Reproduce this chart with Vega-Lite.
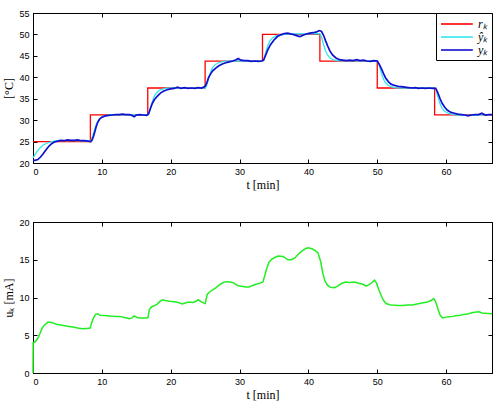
{
  "$schema": "https://vega.github.io/schema/vega-lite/v6.json",
  "padding": {"left": 2, "top": 8, "right": 7, "bottom": 5},
  "spacing": 26,
  "datasets": {
    "top": [
      {"t": 0, "v": 25, "s": "rₖ"}, {"t": 8.333, "v": 31.25, "s": "rₖ"}, {"t": 16.667, "v": 37.5, "s": "rₖ"}, {"t": 25, "v": 43.75, "s": "rₖ"}, {"t": 33.333, "v": 50, "s": "rₖ"}, {"t": 41.667, "v": 43.75, "s": "rₖ"}, {"t": 50, "v": 37.5, "s": "rₖ"}, {"t": 58.333, "v": 31.25, "s": "rₖ"}, {"t": 66.667, "v": 31.25, "s": "rₖ"},
      {"t": 0, "v": 21.2, "s": "ŷₖ"}, {"t": 0.5, "v": 22.5, "s": "ŷₖ"}, {"t": 1.0, "v": 23.5, "s": "ŷₖ"}, {"t": 1.5, "v": 24.2, "s": "ŷₖ"}, {"t": 2.0, "v": 24.6, "s": "ŷₖ"}, {"t": 2.5, "v": 24.9, "s": "ŷₖ"}, {"t": 3.0, "v": 25.1, "s": "ŷₖ"}, {"t": 3.5, "v": 25.2, "s": "ŷₖ"}, {"t": 6.0, "v": 25.25, "s": "ŷₖ"}, {"t": 8.33, "v": 25.1, "s": "ŷₖ"},
      {"t": 8.53, "v": 25.6, "s": "ŷₖ"}, {"t": 8.83, "v": 27.2, "s": "ŷₖ"}, {"t": 9.13, "v": 28.75, "s": "ŷₖ"}, {"t": 9.43, "v": 29.8, "s": "ŷₖ"}, {"t": 9.83, "v": 30.5, "s": "ŷₖ"}, {"t": 10.33, "v": 30.95, "s": "ŷₖ"}, {"t": 11.0, "v": 31.2, "s": "ŷₖ"}, {"t": 13.0, "v": 31.3, "s": "ŷₖ"}, {"t": 16.67, "v": 31.25, "s": "ŷₖ"},
      {"t": 16.87, "v": 31.75, "s": "ŷₖ"}, {"t": 17.17, "v": 33.45, "s": "ŷₖ"}, {"t": 17.47, "v": 35.0, "s": "ŷₖ"}, {"t": 17.77, "v": 36.05, "s": "ŷₖ"}, {"t": 18.17, "v": 36.75, "s": "ŷₖ"}, {"t": 18.67, "v": 37.2, "s": "ŷₖ"}, {"t": 19.37, "v": 37.45, "s": "ŷₖ"}, {"t": 20.5, "v": 37.5, "s": "ŷₖ"}, {"t": 25.0, "v": 37.5, "s": "ŷₖ"},
      {"t": 25.2, "v": 38.0, "s": "ŷₖ"}, {"t": 25.5, "v": 39.7, "s": "ŷₖ"}, {"t": 25.8, "v": 41.25, "s": "ŷₖ"}, {"t": 26.1, "v": 42.3, "s": "ŷₖ"}, {"t": 26.5, "v": 43.0, "s": "ŷₖ"}, {"t": 27.0, "v": 43.45, "s": "ŷₖ"}, {"t": 27.7, "v": 43.7, "s": "ŷₖ"}, {"t": 29.0, "v": 43.85, "s": "ŷₖ"}, {"t": 33.33, "v": 43.75, "s": "ŷₖ"},
      {"t": 33.53, "v": 44.25, "s": "ŷₖ"}, {"t": 33.83, "v": 45.95, "s": "ŷₖ"}, {"t": 34.13, "v": 47.5, "s": "ŷₖ"}, {"t": 34.43, "v": 48.55, "s": "ŷₖ"}, {"t": 34.83, "v": 49.25, "s": "ŷₖ"}, {"t": 35.33, "v": 49.7, "s": "ŷₖ"}, {"t": 36.03, "v": 49.95, "s": "ŷₖ"}, {"t": 37.0, "v": 50.1, "s": "ŷₖ"}, {"t": 41.67, "v": 50.2, "s": "ŷₖ"},
      {"t": 41.87, "v": 49.5, "s": "ŷₖ"}, {"t": 42.17, "v": 47.8, "s": "ŷₖ"}, {"t": 42.47, "v": 46.25, "s": "ŷₖ"}, {"t": 42.77, "v": 45.2, "s": "ŷₖ"}, {"t": 43.17, "v": 44.5, "s": "ŷₖ"}, {"t": 43.67, "v": 44.05, "s": "ŷₖ"}, {"t": 44.37, "v": 43.85, "s": "ŷₖ"}, {"t": 47.0, "v": 43.85, "s": "ŷₖ"}, {"t": 50.0, "v": 43.8, "s": "ŷₖ"},
      {"t": 50.2, "v": 43.25, "s": "ŷₖ"}, {"t": 50.5, "v": 41.55, "s": "ŷₖ"}, {"t": 50.8, "v": 40.0, "s": "ŷₖ"}, {"t": 51.1, "v": 38.95, "s": "ŷₖ"}, {"t": 51.5, "v": 38.25, "s": "ŷₖ"}, {"t": 52.0, "v": 37.8, "s": "ŷₖ"}, {"t": 52.7, "v": 37.55, "s": "ŷₖ"}, {"t": 54.0, "v": 37.5, "s": "ŷₖ"}, {"t": 58.33, "v": 37.5, "s": "ŷₖ"},
      {"t": 58.53, "v": 37.0, "s": "ŷₖ"}, {"t": 58.83, "v": 35.3, "s": "ŷₖ"}, {"t": 59.13, "v": 33.75, "s": "ŷₖ"}, {"t": 59.43, "v": 32.7, "s": "ŷₖ"}, {"t": 59.83, "v": 32.0, "s": "ŷₖ"}, {"t": 60.33, "v": 31.55, "s": "ŷₖ"}, {"t": 61.03, "v": 31.3, "s": "ŷₖ"}, {"t": 62.0, "v": 31.2, "s": "ŷₖ"}, {"t": 63.3, "v": 31.1, "s": "ŷₖ"}, {"t": 66.67, "v": 31.3, "s": "ŷₖ"},
      {"t": 0, "v": 20.6, "s": "yₖ"}, {"t": 0.3, "v": 20.6, "s": "yₖ"}, {"t": 0.7, "v": 20.8, "s": "yₖ"}, {"t": 1.1, "v": 21.4, "s": "yₖ"}, {"t": 1.5, "v": 22.2, "s": "yₖ"}, {"t": 1.9, "v": 23.1, "s": "yₖ"}, {"t": 2.3, "v": 23.9, "s": "yₖ"}, {"t": 2.7, "v": 24.5, "s": "yₖ"}, {"t": 3.1, "v": 24.9, "s": "yₖ"}, {"t": 3.6, "v": 25.1, "s": "yₖ"}, {"t": 4.0, "v": 25.3, "s": "yₖ"}, {"t": 4.5, "v": 25.2, "s": "yₖ"}, {"t": 5.0, "v": 25.4, "s": "yₖ"}, {"t": 5.5, "v": 25.3, "s": "yₖ"}, {"t": 6.0, "v": 25.3, "s": "yₖ"}, {"t": 6.5, "v": 25.4, "s": "yₖ"}, {"t": 7.0, "v": 25.2, "s": "yₖ"}, {"t": 7.5, "v": 25.2, "s": "yₖ"}, {"t": 8.0, "v": 25.1, "s": "yₖ"}, {"t": 8.4, "v": 25.0, "s": "yₖ"},
      {"t": 8.6, "v": 25.4, "s": "yₖ"}, {"t": 8.8, "v": 26.3, "s": "yₖ"}, {"t": 9.0, "v": 27.4, "s": "yₖ"}, {"t": 9.2, "v": 28.6, "s": "yₖ"}, {"t": 9.4, "v": 29.5, "s": "yₖ"}, {"t": 9.7, "v": 30.3, "s": "yₖ"}, {"t": 10.0, "v": 30.7, "s": "yₖ"}, {"t": 10.5, "v": 31.0, "s": "yₖ"}, {"t": 11.0, "v": 31.1, "s": "yₖ"}, {"t": 11.5, "v": 31.2, "s": "yₖ"}, {"t": 12.0, "v": 31.3, "s": "yₖ"}, {"t": 12.5, "v": 31.3, "s": "yₖ"}, {"t": 13.0, "v": 31.4, "s": "yₖ"}, {"t": 13.5, "v": 31.3, "s": "yₖ"}, {"t": 14.0, "v": 31.3, "s": "yₖ"}, {"t": 14.4, "v": 31.1, "s": "yₖ"}, {"t": 14.7, "v": 30.8, "s": "yₖ"}, {"t": 15.0, "v": 31.2, "s": "yₖ"}, {"t": 15.5, "v": 31.3, "s": "yₖ"}, {"t": 16.0, "v": 31.2, "s": "yₖ"}, {"t": 16.5, "v": 31.1, "s": "yₖ"},
      {"t": 16.8, "v": 31.5, "s": "yₖ"}, {"t": 17.0, "v": 32.5, "s": "yₖ"}, {"t": 17.3, "v": 33.8, "s": "yₖ"}, {"t": 17.6, "v": 34.7, "s": "yₖ"}, {"t": 18.0, "v": 35.5, "s": "yₖ"}, {"t": 18.5, "v": 36.3, "s": "yₖ"}, {"t": 19.0, "v": 36.8, "s": "yₖ"}, {"t": 19.5, "v": 37.1, "s": "yₖ"}, {"t": 20.0, "v": 37.3, "s": "yₖ"}, {"t": 20.5, "v": 37.4, "s": "yₖ"}, {"t": 21.0, "v": 37.7, "s": "yₖ"}, {"t": 21.5, "v": 37.4, "s": "yₖ"}, {"t": 22.0, "v": 37.6, "s": "yₖ"}, {"t": 22.5, "v": 37.4, "s": "yₖ"}, {"t": 23.0, "v": 37.5, "s": "yₖ"}, {"t": 23.5, "v": 37.4, "s": "yₖ"}, {"t": 24.0, "v": 37.6, "s": "yₖ"}, {"t": 24.5, "v": 37.5, "s": "yₖ"},
      {"t": 25.0, "v": 37.9, "s": "yₖ"}, {"t": 25.2, "v": 38.5, "s": "yₖ"}, {"t": 25.5, "v": 39.9, "s": "yₖ"}, {"t": 25.8, "v": 40.8, "s": "yₖ"}, {"t": 26.1, "v": 41.5, "s": "yₖ"}, {"t": 26.5, "v": 42.1, "s": "yₖ"}, {"t": 27.0, "v": 42.7, "s": "yₖ"}, {"t": 27.5, "v": 43.1, "s": "yₖ"}, {"t": 28.0, "v": 43.4, "s": "yₖ"}, {"t": 28.5, "v": 43.6, "s": "yₖ"}, {"t": 29.0, "v": 43.8, "s": "yₖ"}, {"t": 29.5, "v": 44.1, "s": "yₖ"}, {"t": 29.8, "v": 44.4, "s": "yₖ"}, {"t": 30.2, "v": 44.0, "s": "yₖ"}, {"t": 30.7, "v": 43.9, "s": "yₖ"}, {"t": 31.2, "v": 43.9, "s": "yₖ"}, {"t": 31.7, "v": 43.7, "s": "yₖ"}, {"t": 32.2, "v": 43.8, "s": "yₖ"}, {"t": 32.7, "v": 43.7, "s": "yₖ"}, {"t": 33.2, "v": 43.8, "s": "yₖ"},
      {"t": 33.5, "v": 44.0, "s": "yₖ"}, {"t": 33.8, "v": 45.2, "s": "yₖ"}, {"t": 34.1, "v": 46.4, "s": "yₖ"}, {"t": 34.5, "v": 47.6, "s": "yₖ"}, {"t": 35.0, "v": 48.7, "s": "yₖ"}, {"t": 35.5, "v": 49.5, "s": "yₖ"}, {"t": 36.0, "v": 49.9, "s": "yₖ"}, {"t": 36.5, "v": 50.2, "s": "yₖ"}, {"t": 37.0, "v": 50.3, "s": "yₖ"}, {"t": 37.5, "v": 50.1, "s": "yₖ"}, {"t": 38.0, "v": 49.9, "s": "yₖ"}, {"t": 38.5, "v": 49.6, "s": "yₖ"}, {"t": 38.8, "v": 49.5, "s": "yₖ"}, {"t": 39.2, "v": 49.8, "s": "yₖ"}, {"t": 39.7, "v": 50.1, "s": "yₖ"}, {"t": 40.2, "v": 50.3, "s": "yₖ"}, {"t": 40.7, "v": 50.4, "s": "yₖ"}, {"t": 41.2, "v": 50.6, "s": "yₖ"}, {"t": 41.6, "v": 50.9, "s": "yₖ"},
      {"t": 41.9, "v": 50.7, "s": "yₖ"}, {"t": 42.2, "v": 49.8, "s": "yₖ"}, {"t": 42.5, "v": 48.5, "s": "yₖ"}, {"t": 42.8, "v": 47.3, "s": "yₖ"}, {"t": 43.1, "v": 46.2, "s": "yₖ"}, {"t": 43.5, "v": 45.2, "s": "yₖ"}, {"t": 44.0, "v": 44.5, "s": "yₖ"}, {"t": 44.5, "v": 44.1, "s": "yₖ"}, {"t": 45.0, "v": 44.0, "s": "yₖ"}, {"t": 45.5, "v": 43.9, "s": "yₖ"}, {"t": 46.0, "v": 44.0, "s": "yₖ"}, {"t": 46.5, "v": 43.9, "s": "yₖ"}, {"t": 47.0, "v": 44.1, "s": "yₖ"}, {"t": 47.5, "v": 43.9, "s": "yₖ"}, {"t": 48.0, "v": 44.0, "s": "yₖ"}, {"t": 48.5, "v": 43.8, "s": "yₖ"}, {"t": 49.0, "v": 43.7, "s": "yₖ"}, {"t": 49.5, "v": 43.9, "s": "yₖ"}, {"t": 50.0, "v": 43.8, "s": "yₖ"},
      {"t": 50.3, "v": 43.0, "s": "yₖ"}, {"t": 50.6, "v": 42.0, "s": "yₖ"}, {"t": 50.9, "v": 40.9, "s": "yₖ"}, {"t": 51.2, "v": 39.9, "s": "yₖ"}, {"t": 51.6, "v": 39.0, "s": "yₖ"}, {"t": 52.0, "v": 38.4, "s": "yₖ"}, {"t": 52.5, "v": 38.1, "s": "yₖ"}, {"t": 53.0, "v": 37.9, "s": "yₖ"}, {"t": 53.5, "v": 37.8, "s": "yₖ"}, {"t": 54.0, "v": 37.7, "s": "yₖ"}, {"t": 54.5, "v": 37.6, "s": "yₖ"}, {"t": 55.0, "v": 37.5, "s": "yₖ"}, {"t": 55.5, "v": 37.6, "s": "yₖ"}, {"t": 56.0, "v": 37.4, "s": "yₖ"}, {"t": 56.5, "v": 37.5, "s": "yₖ"}, {"t": 57.0, "v": 37.4, "s": "yₖ"}, {"t": 57.5, "v": 37.5, "s": "yₖ"}, {"t": 58.0, "v": 37.4, "s": "yₖ"}, {"t": 58.5, "v": 37.4, "s": "yₖ"},
      {"t": 58.8, "v": 36.4, "s": "yₖ"}, {"t": 59.1, "v": 35.1, "s": "yₖ"}, {"t": 59.4, "v": 34.0, "s": "yₖ"}, {"t": 59.8, "v": 33.0, "s": "yₖ"}, {"t": 60.2, "v": 32.3, "s": "yₖ"}, {"t": 60.7, "v": 31.8, "s": "yₖ"}, {"t": 61.2, "v": 31.6, "s": "yₖ"}, {"t": 61.7, "v": 31.4, "s": "yₖ"}, {"t": 62.2, "v": 31.3, "s": "yₖ"}, {"t": 62.7, "v": 31.2, "s": "yₖ"}, {"t": 63.2, "v": 31.0, "s": "yₖ"}, {"t": 63.7, "v": 31.2, "s": "yₖ"}, {"t": 64.2, "v": 31.3, "s": "yₖ"}, {"t": 64.7, "v": 31.3, "s": "yₖ"}, {"t": 65.2, "v": 31.6, "s": "yₖ"}, {"t": 65.7, "v": 31.2, "s": "yₖ"}, {"t": 66.2, "v": 31.3, "s": "yₖ"}, {"t": 66.67, "v": 31.3, "s": "yₖ"}
    ],
    "u": [
      {"t": 0, "v": 0}, {"t": 0.02, "v": 4.0}, {"t": 0.3, "v": 4.1}, {"t": 0.7, "v": 4.6}, {"t": 1.0, "v": 5.2}, {"t": 1.3, "v": 5.9}, {"t": 1.7, "v": 6.4}, {"t": 2.2, "v": 6.75}, {"t": 2.7, "v": 6.7}, {"t": 3.4, "v": 6.45}, {"t": 4.4, "v": 6.3}, {"t": 5.0, "v": 6.2}, {"t": 5.8, "v": 6.1}, {"t": 6.5, "v": 5.95}, {"t": 7.2, "v": 5.85}, {"t": 7.8, "v": 5.9}, {"t": 8.3, "v": 5.95},
      {"t": 8.5, "v": 6.6}, {"t": 8.8, "v": 7.3}, {"t": 9.1, "v": 7.8}, {"t": 9.4, "v": 7.85}, {"t": 9.7, "v": 7.65}, {"t": 10.4, "v": 7.6}, {"t": 11.1, "v": 7.55}, {"t": 12.0, "v": 7.5}, {"t": 12.6, "v": 7.5}, {"t": 13.3, "v": 7.35}, {"t": 14.0, "v": 7.2}, {"t": 14.4, "v": 7.3}, {"t": 14.7, "v": 7.55}, {"t": 15.1, "v": 7.35}, {"t": 15.6, "v": 7.3}, {"t": 16.4, "v": 7.3}, {"t": 16.7, "v": 7.35},
      {"t": 16.9, "v": 8.4}, {"t": 17.2, "v": 8.75}, {"t": 17.6, "v": 8.9}, {"t": 18.0, "v": 9.1}, {"t": 18.4, "v": 9.45}, {"t": 18.8, "v": 9.7}, {"t": 19.2, "v": 9.6}, {"t": 19.8, "v": 9.5}, {"t": 20.8, "v": 9.4}, {"t": 21.2, "v": 9.3}, {"t": 21.7, "v": 9.15}, {"t": 22.2, "v": 9.3}, {"t": 22.7, "v": 9.4}, {"t": 23.2, "v": 9.35}, {"t": 23.7, "v": 9.5}, {"t": 24.0, "v": 9.7}, {"t": 24.4, "v": 9.45}, {"t": 24.8, "v": 9.25}, {"t": 25.0, "v": 9.2},
      {"t": 25.3, "v": 10.4}, {"t": 25.6, "v": 10.7}, {"t": 26.1, "v": 11.0}, {"t": 26.6, "v": 11.3}, {"t": 27.1, "v": 11.7}, {"t": 27.6, "v": 11.95}, {"t": 28.0, "v": 12.1}, {"t": 28.7, "v": 12.05}, {"t": 29.2, "v": 11.9}, {"t": 29.7, "v": 11.6}, {"t": 30.3, "v": 11.5}, {"t": 30.9, "v": 11.4}, {"t": 31.4, "v": 11.4}, {"t": 31.9, "v": 11.6}, {"t": 32.4, "v": 11.75}, {"t": 33.0, "v": 11.9}, {"t": 33.4, "v": 12.05},
      {"t": 33.7, "v": 13.0}, {"t": 33.9, "v": 13.7}, {"t": 34.3, "v": 14.7}, {"t": 34.7, "v": 15.1}, {"t": 35.1, "v": 15.3}, {"t": 35.6, "v": 15.5}, {"t": 36.0, "v": 15.45}, {"t": 36.4, "v": 15.4}, {"t": 37.0, "v": 15.0}, {"t": 37.5, "v": 15.0}, {"t": 38.0, "v": 15.2}, {"t": 38.5, "v": 15.7}, {"t": 39.0, "v": 16.1}, {"t": 39.6, "v": 16.5}, {"t": 40.0, "v": 16.6}, {"t": 40.5, "v": 16.45}, {"t": 41.0, "v": 16.2}, {"t": 41.4, "v": 15.9},
      {"t": 41.8, "v": 14.7}, {"t": 42.1, "v": 13.2}, {"t": 42.4, "v": 12.2}, {"t": 42.8, "v": 11.6}, {"t": 43.2, "v": 11.35}, {"t": 43.8, "v": 11.3}, {"t": 44.3, "v": 11.55}, {"t": 44.8, "v": 11.85}, {"t": 45.4, "v": 12.05}, {"t": 46.0, "v": 12.0}, {"t": 46.7, "v": 12.05}, {"t": 47.3, "v": 11.9}, {"t": 47.9, "v": 11.75}, {"t": 48.4, "v": 11.5}, {"t": 48.8, "v": 11.7}, {"t": 49.2, "v": 11.95}, {"t": 49.6, "v": 12.3}, {"t": 49.9, "v": 11.9},
      {"t": 50.2, "v": 11.1}, {"t": 50.6, "v": 10.2}, {"t": 51.0, "v": 9.5}, {"t": 51.3, "v": 9.2}, {"t": 51.8, "v": 9.05}, {"t": 52.2, "v": 9.0}, {"t": 53.0, "v": 8.95}, {"t": 53.7, "v": 8.95}, {"t": 54.4, "v": 9.0}, {"t": 55.1, "v": 9.0}, {"t": 55.6, "v": 9.1}, {"t": 56.1, "v": 9.2}, {"t": 56.7, "v": 9.3}, {"t": 57.3, "v": 9.4}, {"t": 57.8, "v": 9.6}, {"t": 58.2, "v": 9.85},
      {"t": 58.5, "v": 9.4}, {"t": 58.8, "v": 8.5}, {"t": 59.1, "v": 7.7}, {"t": 59.5, "v": 7.3}, {"t": 60.0, "v": 7.4}, {"t": 60.4, "v": 7.45}, {"t": 61.0, "v": 7.5}, {"t": 61.5, "v": 7.6}, {"t": 61.9, "v": 7.6}, {"t": 62.5, "v": 7.75}, {"t": 63.1, "v": 7.8}, {"t": 63.6, "v": 7.95}, {"t": 64.1, "v": 8.05}, {"t": 64.8, "v": 8.1}, {"t": 65.2, "v": 7.95}, {"t": 65.8, "v": 7.9}, {"t": 66.67, "v": 7.85}
    ]
  },
  "vconcat": [
    {
      "width": 459,
      "height": 150,
      "data": {"name": "top"},
      "layer": [
        {
          "transform": [{"filter": "datum.s === 'rₖ'"}],
          "mark": {"type": "line", "interpolate": "step-after", "strokeWidth": 1.3},
          "encoding": {
            "x": {"field": "t", "type": "quantitative", "scale": {"domain": [0, 66.667], "nice": false}, "axis": {"orient": "bottom", "values": [0, 10, 20, 30, 40, 50, 60], "title": "t [min]"}},
            "y": {"field": "v", "type": "quantitative", "scale": {"domain": [20, 55], "nice": false}, "axis": {"orient": "left", "values": [20, 25, 30, 35, 40, 45, 50, 55], "title": "[°C]"}},
            "color": {"field": "s", "type": "nominal", "scale": {"domain": ["rₖ", "ŷₖ", "yₖ"], "range": ["#ff0000", "#33e6f2", "#1010d0"]}, "legend": {"orient": "top-right", "offset": 0, "title": null, "strokeColor": "black", "fillColor": "white", "padding": 4, "symbolType": "M-1,0L4.3,0", "symbolSize": 144, "symbolStrokeWidth": 1.6, "labelFont": "Liberation Serif", "labelFontStyle": "italic", "labelFontSize": 12, "labelColor": "black", "labelOffset": 24, "rowPadding": -3}}
          }
        },
        {
          "transform": [{"filter": "datum.s === 'ŷₖ'"}],
          "mark": {"type": "line", "strokeWidth": 1.3},
          "encoding": {
            "x": {"field": "t", "type": "quantitative", "axis": null},
            "y": {"field": "v", "type": "quantitative", "axis": null},
            "color": {"field": "s", "type": "nominal"}
          }
        },
        {
          "transform": [{"filter": "datum.s === 'yₖ'"}],
          "mark": {"type": "line", "strokeWidth": 1.7},
          "encoding": {
            "x": {"field": "t", "type": "quantitative", "axis": null},
            "y": {"field": "v", "type": "quantitative", "axis": null},
            "color": {"field": "s", "type": "nominal"}
          }
        },
        {
          "transform": [{"filter": "datum.s === 'rₖ'"}],
          "mark": {"type": "line", "opacity": 0},
          "encoding": {
            "x": {"field": "t", "type": "quantitative", "axis": {"orient": "top", "values": [0, 10, 20, 30, 40, 50, 60], "labels": false, "title": null}},
            "y": {"field": "v", "type": "quantitative", "axis": {"orient": "right", "values": [20, 25, 30, 35, 40, 45, 50, 55], "labels": false, "title": null}}
          }
        }
      ],
      "resolve": {"axis": {"x": "independent", "y": "independent"}}
    },
    {
      "width": 459,
      "height": 151,
      "data": {"name": "u"},
      "layer": [
        {
          "mark": {"type": "line", "strokeWidth": 1.5, "color": "#22ee22"},
          "encoding": {
            "x": {"field": "t", "type": "quantitative", "scale": {"domain": [0, 66.667], "nice": false}, "axis": {"orient": "bottom", "values": [0, 10, 20, 30, 40, 50, 60], "title": "t [min]"}},
            "y": {"field": "v", "type": "quantitative", "scale": {"domain": [0, 20], "nice": false}, "axis": {"orient": "left", "values": [0, 5, 10, 15, 20], "title": "uₖ [mA]"}}
          }
        },
        {
          "mark": {"type": "line", "opacity": 0},
          "encoding": {
            "x": {"field": "t", "type": "quantitative", "axis": {"orient": "top", "values": [0, 10, 20, 30, 40, 50, 60], "labels": false, "title": null}},
            "y": {"field": "v", "type": "quantitative", "axis": {"orient": "right", "values": [0, 5, 10, 15, 20], "labels": false, "title": null}}
          }
        }
      ],
      "resolve": {"axis": {"x": "independent", "y": "independent"}}
    }
  ],
  "config": {
    "view": {"stroke": "black", "strokeWidth": 1},
    "axis": {"grid": false, "labelFont": "Liberation Sans", "labelFontSize": 9, "labelColor": "black", "tickColor": "black", "domainColor": "black", "tickSize": -4, "labelPadding": 8, "titleFont": "Liberation Serif", "titleFontSize": 12, "titleFontWeight": "normal", "titleColor": "black", "titlePadding": 3}
  }
}
